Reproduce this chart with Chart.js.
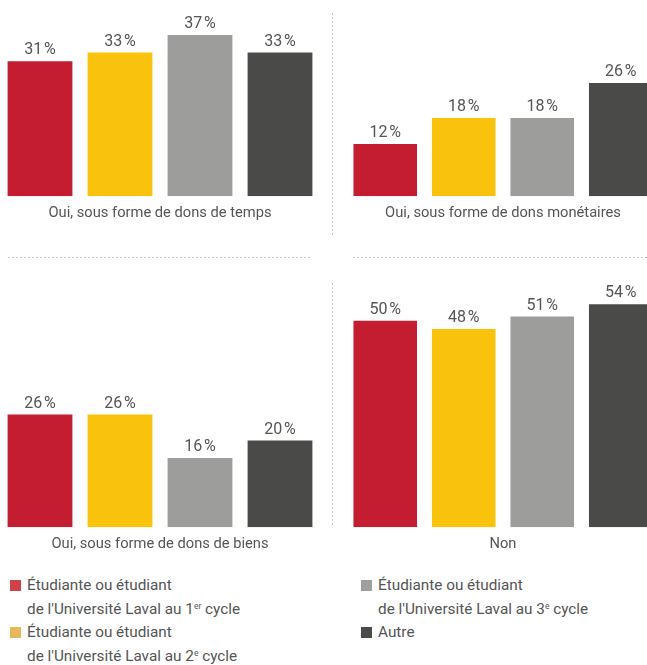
<!DOCTYPE html>
<html lang="fr">
<head>
<meta charset="utf-8">
<script src="https://cdn.jsdelivr.net/npm/chart.js@4/dist/chart.umd.min.js"></script>
<style>
	html, body { margin: 0; padding: 0; background: #fff; }
	body { width: 647px; height: 665px; position: relative; overflow: hidden; font-family: Roboto, "Liberation Sans", sans-serif; }
	canvas { position: absolute; }
	.dots-h { position: absolute; height: 1px; background-image: linear-gradient(to right, #c8c8c8 50%, transparent 50%); background-size: 4px 1px; }
	.dots-v { position: absolute; width: 1px; background-image: linear-gradient(to bottom, #c8c8c8 50%, transparent 50%); background-size: 1px 4px; }
	.legend { position: absolute; color: #555; font-size: 15.3px; line-height: 23.5px; }
	.legend .sw { position: absolute; left: 0; top: 6px; width: 11px; height: 11px; }
	.legend .txt { position: absolute; left: 17px; top: 0; white-space: nowrap; }
	.legend sup { font-size: 8.5px; vertical-align: 5px; line-height: 0; }
</style>
</head>
<body>
<canvas id="c1" width="320" height="222" style="left:0;top:0"></canvas>
<canvas id="c2" width="314" height="222" style="left:346px;top:0"></canvas>
<canvas id="c3" width="320" height="313" style="left:0;top:240px"></canvas>
<canvas id="c4" width="314" height="313" style="left:346px;top:240px"></canvas>

<div class="dots-v" style="left:332px;top:13px;height:222px"></div>
<div class="dots-v" style="left:332px;top:283px;height:243px"></div>
<div class="dots-h" style="left:8px;top:257px;width:304px"></div>
<div class="dots-h" style="left:353px;top:257px;width:294px"></div>

<div class="legend" style="left:10px;top:574px">
	<div class="sw" style="background:#d0424a"></div>
	<div class="txt">Étudiante ou étudiant<br>de l'Université Laval au 1<sup>er</sup> cycle</div>
</div>
<div class="legend" style="left:10px;top:621px">
	<div class="sw" style="background:#e7b75c"></div>
	<div class="txt">Étudiante ou étudiant<br>de l'Université Laval au 2<sup>e</sup> cycle</div>
</div>
<div class="legend" style="left:361px;top:574px">
	<div class="sw" style="background:#a09f9d"></div>
	<div class="txt">Étudiante ou étudiant<br>de l'Université Laval au 3<sup>e</sup> cycle</div>
</div>
<div class="legend" style="left:361px;top:621px">
	<div class="sw" style="background:#4b4b49"></div>
	<div class="txt">Autre</div>
</div>

<script>
// groupes (mêmes pour les 4 panneaux)
const groups = ['1er cycle', '2e cycle', '3e cycle', 'Autre'];
const barColors = ['#c41c30', '#f9c30d', '#9d9d9b', '#4a4a48'];

// titres des panneaux
const panelTitles = [
	'Oui, sous forme de dons de temps',
	'Oui, sous forme de dons monétaires',
	'Oui, sous forme de dons de biens',
	'Non'
];

// valeurs en %
const donsTemps = [31, 33, 37, 33];
const donsMonetaires = [12, 18, 18, 26];
const donsBiens = [26, 26, 16, 20];
const non = [50, 48, 51, 54];

const valueLabels = {
	id: 'valueLabels',
	afterDatasetsDraw(chart) {
		const ctx = chart.ctx;
		ctx.save();
		ctx.font = '16px Roboto, "Liberation Sans", sans-serif';
		ctx.fillStyle = '#555';
		ctx.textAlign = 'center';
		ctx.textBaseline = 'alphabetic';
		chart.getDatasetMeta(0).data.forEach(function(bar, i) {
			const v = chart.data.datasets[0].data[i];
			ctx.fillText(v + '\u200a%', bar.x, bar.y - 7);
		});
		ctx.restore();
	}
};

function makePanel(id, title, values, yMax, padTop) {
	const ctx = document.getElementById(id).getContext('2d');
	return new Chart(ctx, {
		type: 'bar',
		data: {
			labels: groups,
			datasets: [{
				data: values,
				backgroundColor: barColors,
				barPercentage: 0.81,
				categoryPercentage: 1
			}]
		},
		options: {
			responsive: false,
			animation: false,
			layout: { padding: { top: padTop, left: 0, right: 0, bottom: 0 } },
			plugins: { legend: { display: false }, tooltip: { enabled: false } },
			scales: {
				x: {
					grid: { display: false },
					border: { display: false },
					ticks: { display: false },
					title: {
						display: true,
						text: title,
						color: '#555',
						font: { family: 'Roboto, "Liberation Sans", sans-serif', size: 14.7 },
						padding: { top: 0, bottom: 0 }
					}
				},
				y: { display: false, min: 0, max: yMax }
			}
		},
		plugins: [valueLabels]
	});
}

makePanel('c1', panelTitles[0], donsTemps, 40, 22);
makePanel('c2', panelTitles[1], donsMonetaires, 40, 22);
makePanel('c3', panelTitles[2], donsBiens, 60, 27);
makePanel('c4', panelTitles[3], non, 63, 27);
</script>
</body>
</html>
